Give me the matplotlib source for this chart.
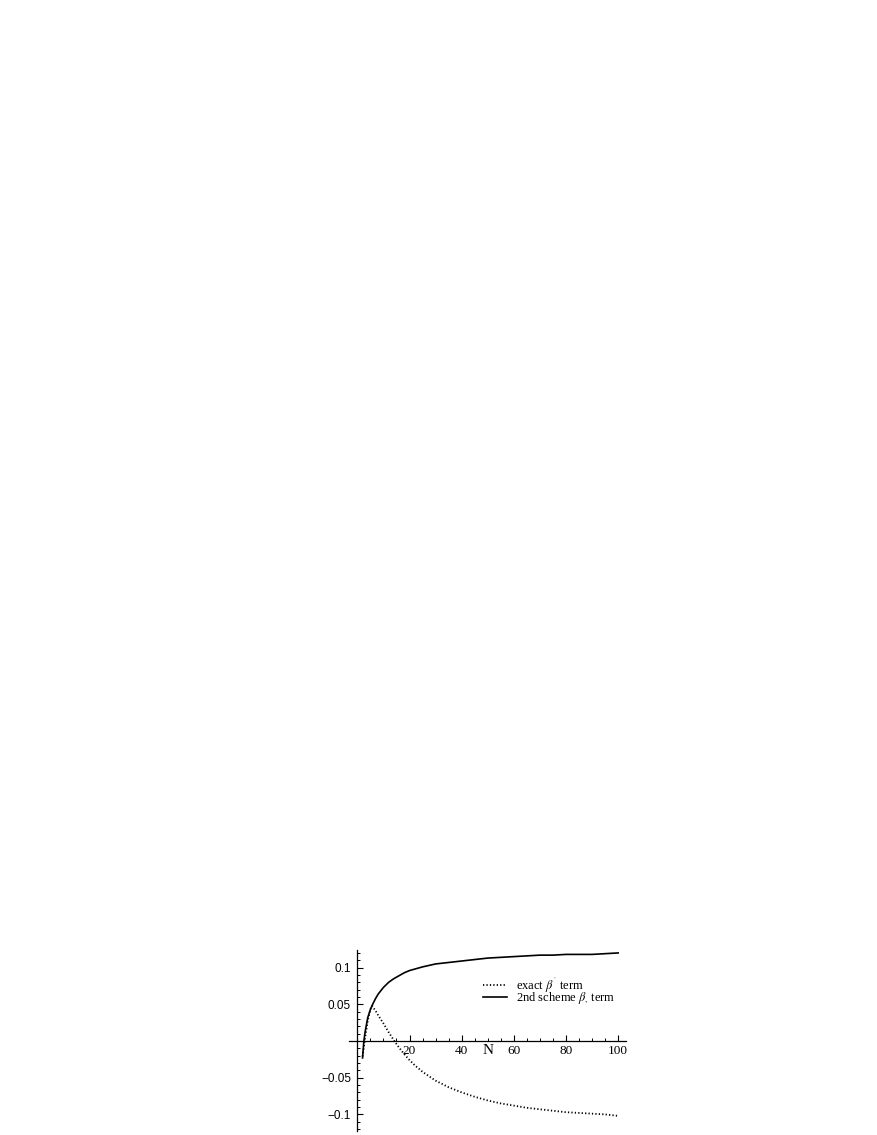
import matplotlib
matplotlib.use("Agg")
import matplotlib.pyplot as plt
import numpy as np

plt.rcParams["mathtext.fontset"] = "stix"

# values
n_exact = [2, 3, 4, 5, 5.6, 7, 8, 10, 12, 14, 16, 18, 20, 22, 25, 30, 35, 40,
           45, 50, 55, 60, 65, 70, 75, 80, 85, 90, 95, 100]
exact = [-0.021, 0.005, 0.028, 0.043, 0.048, 0.041, 0.035, 0.024, 0.012, 0.001,
         -0.009, -0.018, -0.026, -0.033, -0.042, -0.054, -0.063, -0.070,
         -0.076, -0.081, -0.085, -0.088, -0.091, -0.093, -0.095, -0.097,
         -0.098, -0.099, -0.100, -0.102]

n_scheme = [2, 2.5, 3, 4, 5, 6, 7, 8, 10, 12, 14, 16, 18, 20, 25, 30, 35, 40,
            45, 50, 55, 60, 65, 70, 75, 80, 85, 90, 95, 100]
scheme = [-0.023, 0.0, 0.013, 0.032, 0.043, 0.051, 0.058, 0.064, 0.073, 0.080,
          0.085, 0.089, 0.093, 0.096, 0.101, 0.105, 0.107, 0.109, 0.111, 0.113,
          0.114, 0.115, 0.116, 0.117, 0.117, 0.118, 0.118, 0.118, 0.119, 0.120]

labels = [r"exact $\beta^{'}$ term", r"2nd scheme $\beta_{,}$ term"]
xticks = [20, 40, 60, 80, 100]
yticks = [-0.1, -0.05, 0.05, 0.1]
ytick_labels = ["\u22120.1", "\u22120.05", "0.05", "0.1"]

W, H = 877, 1135
fig = plt.figure(figsize=(W / 100, H / 100), dpi=100)
ax = fig.add_axes([349 / W, 1 - 1131 / H, 277 / W, 181 / H])

ax.plot(n_exact, exact, color="black", lw=1.3, linestyle=(0, (0.7, 1.2)),
        label=labels[0])
ax.plot(n_scheme, scheme, color="black", lw=1.2, label=labels[1])

ax.set_xlim(-3.2, 103)
ax.set_ylim(-0.1226, 0.124)

for s in ["top", "right"]:
    ax.spines[s].set_visible(False)
ax.spines["left"].set_position(("data", 0))
ax.spines["bottom"].set_position(("data", 0))
ax.spines["left"].set_linewidth(0.9)
ax.spines["bottom"].set_linewidth(0.9)

ax.set_xticks(xticks)
ax.set_xticklabels([str(t) for t in xticks], family="Liberation Serif",
                   fontsize=9.5)
ax.set_xticks([m for m in range(5, 100, 5) if m % 20], minor=True)
ax.set_yticks(yticks)
ax.set_yticklabels(ytick_labels, family="Liberation Sans", fontsize=8.5)
ax.set_yticks([round(v, 2) for v in np.arange(-0.12, 0.125, 0.01)
               if round(v * 100) % 5 != 0], minor=True)

ax.tick_params(which="major", direction="in", length=4.5, width=0.8)
ax.tick_params(which="minor", direction="in", length=2.5, width=0.7)
ax.tick_params(axis="x", pad=3)
ax.tick_params(axis="y", pad=4.5)

ax.text(50, -0.0125, "N", ha="center", va="center",
        family="Liberation Serif", fontsize=11)

ax.legend(loc="center left", bbox_to_anchor=(0.483, 0.776), frameon=False,
          borderpad=0, borderaxespad=0, handlelength=1.9, handletextpad=0.75,
          labelspacing=-0.35, prop={"family": "Liberation Serif", "size": 9})

fig.savefig("out.png", dpi=100)
